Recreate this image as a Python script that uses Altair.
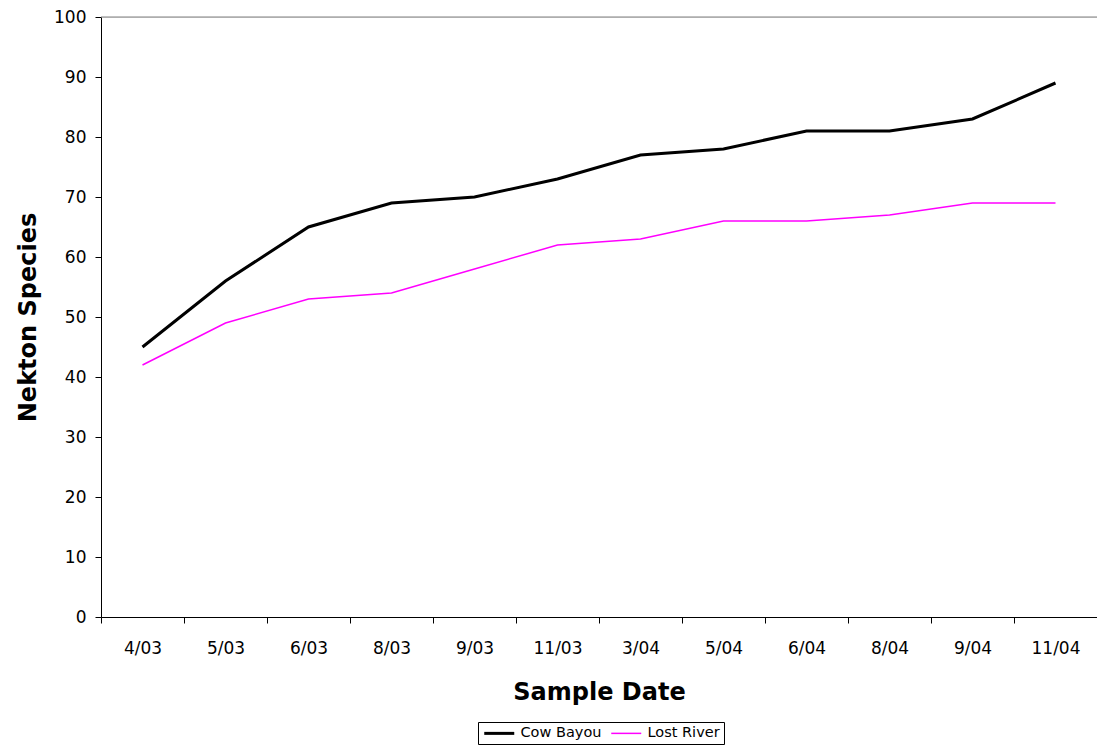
import altair as alt
import pandas as pd

dates = ["4/03", "5/03", "6/03", "8/03", "9/03", "11/03", "3/04", "5/04", "6/04", "8/04", "9/04", "11/04"]
cow_bayou = [45, 56, 65, 69, 70, 73, 77, 78, 81, 81, 83, 89]
lost_river = [42, 49, 53, 54, 58, 62, 63, 66, 66, 67, 69, 69]
series_names = ["Cow Bayou", "Lost River"]

rows = []
for d, v in zip(dates, cow_bayou):
    rows.append({"date": d, "value": v, "series": "Cow Bayou"})
for d, v in zip(dates, lost_river):
    rows.append({"date": d, "value": v, "series": "Lost River"})
df = pd.DataFrame(rows)

FONT = "DejaVu Sans"

legend_kw = dict(title=None, orient="none", direction="horizontal",
                 legendX=377, legendY=705,
                 symbolType="M-1,0H5", symbolSize=100,
                 labelFont=FONT, labelFontSize=14.5, labelColor="black",
                 strokeColor="black", padding=4,
                 columnPadding=6, symbolOffset=0, labelOffset=24)

lines = alt.Chart(df).mark_line().encode(
    x=alt.X("date:N", sort=dates, bandPosition=0.5,
            scale=alt.Scale(type="band", paddingInner=0, paddingOuter=0),
            axis=alt.Axis(title="Sample Date", labelAngle=0, tickBand="extent",
                          labelFont=FONT, labelFontSize=17, labelColor="black",
                          titleFont=FONT, titleFontSize=24, titleFontWeight="bold",
                          titleColor="black", titlePadding=24, labelPadding=17,
                          domainColor="black", tickColor="black", tickSize=6,
                          grid=False)),
    y=alt.Y("value:Q",
            scale=alt.Scale(domain=[0, 100], nice=False),
            axis=alt.Axis(title="Nekton Species", values=list(range(0, 101, 10)),
                          labelFont=FONT, labelFontSize=17, labelColor="black",
                          titleFont=FONT, titleFontSize=24, titleFontWeight="bold",
                          titleColor="black", titlePadding=13, labelPadding=9,
                          domainColor="black", tickColor="black", tickSize=6,
                          grid=False)),
    color=alt.Color("series:N", sort=series_names,
                    scale=alt.Scale(domain=series_names, range=["#000000", "#FF00FF"]),
                    legend=alt.Legend(**legend_kw)),
    strokeWidth=alt.StrokeWidth("series:N", sort=series_names,
                                scale=alt.Scale(domain=series_names, range=[3, 1.5]),
                                legend=alt.Legend(**legend_kw)),
)

top_rule = alt.Chart(pd.DataFrame({"y": [100]})).mark_rule(color="#808080", strokeWidth=1).encode(
    y="y:Q"
)

chart = alt.layer(top_rule, lines).properties(
    width=996, height=600,
    autosize=alt.AutoSizeParams(type="none"),
    padding={"left": 93, "top": 9, "right": 0, "bottom": 131},
).configure_view(stroke=None).configure(background="white")

chart.save("out.html", embed_options={"renderer": "svg", "actions": False})
